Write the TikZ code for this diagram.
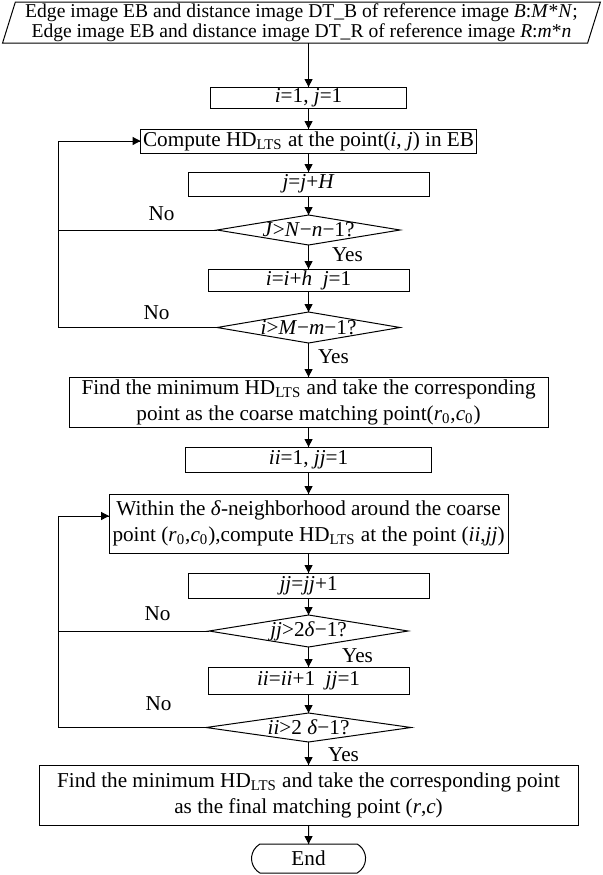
\documentclass[tikz,border=0pt]{standalone}
\usepackage{fontspec}
\setmainfont{Liberation Serif}
\usetikzlibrary{
  positioning, shapes.geometric, shapes.misc,
	arrows.meta, decorations.markings}
\tikzset{
    Arrow/.style = {
        decoration={
            markings,
            mark=at position 1 with {
                \arrow{Triangle[length=4pt, width=4pt]}
                }
            },
        preaction = {decorate}
    },
    Box/.style = {draw, align=center, inner sep=0pt, outer sep=0pt},
    Cond/.style = {diamond, draw, inner sep=0pt, outer sep=0pt},
    Lab/.style = {inner sep=0pt}
}
\newcommand{\hdl}{HD\textsubscript{LTS}}
\newcommand{\vi}[1]{\textit{#1}}

\begin{document}
\begin{tikzpicture}[font=\fontsize{10.6}{13}\selectfont, line width=0.5pt]
    \useasboundingbox (0,0) rectangle (301.5pt,-437.5pt);
    \node [trapezium, trapezium left angle=72, trapezium right angle=108, trapezium stretches=true, draw, align=center, inner sep=0pt, outer sep=0pt, minimum width=299pt, minimum height=20.5pt, font=\fontsize{9.8}{10}\selectfont] (In) at (150.75pt,-11.25pt) {Edge image EB and distance image DT\_B of reference image \vi{B}:\vi{M}*\vi{N};\\Edge image EB and distance image DT\_R of reference image \vi{R}:\vi{m}*\vi{n}};
    \node [Box, minimum width=98pt, minimum height=10.5pt, below=22pt of In, xshift=3.5pt] (I1) {\vi{i}=1, \vi{j}=1};
    \node [Box, minimum width=168pt, minimum height=12pt, below=10.5pt of I1] (C) {Compute \hdl{} at the point(\vi{i}, \vi{j}) in EB};
    \node [Box, minimum width=120.5pt, minimum height=12pt, below=9.5pt of C] (J) {\vi{j}=\vi{j}+\vi{H}};
    \node [Cond, minimum width=91.5pt, minimum height=15pt, below=9.5pt of J, label=center:{\vi{J}>\vi{N}−\vi{n}−1?}] (Dj) {};
    \node [Box, minimum width=100.5pt, minimum height=11pt, below=12pt of Dj] (I) {\vi{i}=\vi{i}+\vi{h}\enspace\vi{j}=1};
    \node [Cond, minimum width=91.5pt, minimum height=15.5pt, below=10.5pt of I, label=center:{\vi{i}>\vi{M}−\vi{m}−1?}] (Di) {};
    \node [Box, minimum width=239.5pt, minimum height=25pt, below=17pt of Di] (F) {Find the minimum \hdl{} and take the corresponding\\point as the coarse matching point(\vi{r}\textsubscript{0},\vi{c}\textsubscript{0})};
    \node [Box, minimum width=123pt, minimum height=12.5pt, below=10pt of F] (II1) {\vi{ii}=1, \vi{jj}=1};
    \node [Box, minimum width=199.5pt, minimum height=29.5pt, below=11pt of II1] (W) {Within the \vi{δ}-neighborhood around the coarse\\point (\vi{r}\textsubscript{0},\vi{c}\textsubscript{0}),compute \hdl{} at the point (\vi{ii},\vi{jj})};
    \node [Box, minimum width=120.5pt, minimum height=12.5pt, below=10pt of W] (JJ) {\vi{jj}=\vi{jj}+1};
    \node [Cond, minimum width=99.5pt, minimum height=16pt, below=8.5pt of JJ, label=center:{\vi{jj}>2\vi{δ}−1?}] (Djj) {};
    \node [Box, minimum width=100.5pt, minimum height=13.5pt, below=10pt of Djj] (II) {\vi{ii}=\vi{ii}+1\enspace\vi{jj}=1};
    \node [Cond, minimum width=102.5pt, minimum height=14.5pt, below=9.5pt of II, label=center:{\vi{ii}>2 \vi{δ}−1?}] (Dii) {};
    \node [Box, minimum width=269.5pt, minimum height=30pt, below=11.5pt of Dii] (Fin) {Find the minimum \hdl{} and take the corresponding point\\as the final matching point (\vi{r},\vi{c})};
    \node [rounded rectangle, rounded rectangle arc length=120, draw, inner sep=0pt, outer sep=0pt, minimum width=57pt, minimum height=14.5pt, below=9.5pt of Fin] (End) {End};
    % branch labels
    \node [Lab, above left=4.5pt and 21pt of Dj.west] (No1) {No};
    \node [Lab, above left=3.5pt and 23.5pt of Di.west] (No2) {No};
    \node [Lab, above left=5pt and 19pt of Djj.west] (No3) {No};
    \node [Lab, above left=8pt and 17pt of Dii.west] (No4) {No};
    \node [Lab, below right=1pt and 11.5pt of Dj.south] (Yes1) {Yes};
    \node [Lab, below right=3pt and 4.5pt of Di.south] (Yes2) {Yes};
    \node [Lab, below right=0.7pt and 16.5pt of Djj.south] (Yes3) {Yes};
    \node [Lab, below right=2.7pt and 9.5pt of Dii.south] (Yes4) {Yes};
    \coordinate (L) at (29pt,0);
    \draw [Arrow] (In.south -| I1) to (I1);
    \draw [Arrow] (I1) to (C);
    \draw [Arrow] (C) to (J);
    \draw [Arrow] (J) to (Dj);
    \draw [Arrow] (Dj) to (I);
    \draw [Arrow] (I) to (Di);
    \draw [Arrow] (Di) to (F);
    \draw [Arrow] (F) to (II1);
    \draw [Arrow] (II1) to (W);
    \draw [Arrow] (W) to (JJ);
    \draw [Arrow] (JJ) to (Djj);
    \draw [Arrow] (Djj) to (II);
    \draw [Arrow] (II) to (Dii);
    \draw [Arrow] (Dii) to (Fin);
    \draw [Arrow] (Fin) to (End);
    \draw (Dj.west) -- (Dj.west -| L);
    \draw [Arrow] (Di.west) -- (Di.west -| L) |- (C.west);
    \draw (Djj.west) -- (Djj.west -| L);
    \draw [Arrow] (Dii.west) -- (Dii.west -| L) |- ([yshift=3.75pt]W.west);
\end{tikzpicture}
\end{document}
